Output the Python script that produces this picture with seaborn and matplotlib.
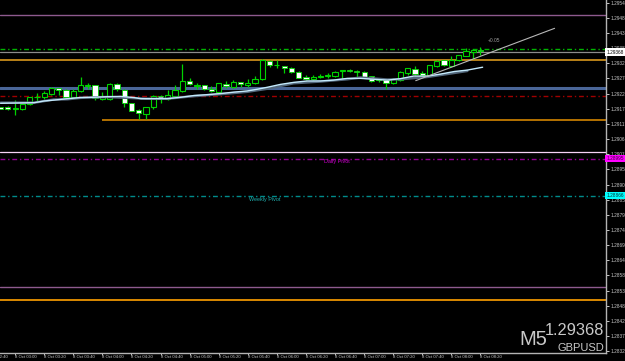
import numpy as np
import pandas as pd
import matplotlib
matplotlib.use("Agg")
import matplotlib.pyplot as plt
import seaborn as sns

# ---------------- data ----------------
opens = [1.29175, 1.29175, 1.29170, 1.29170, 1.29187, 1.29210, 1.29212, 1.29223, 1.29241, 1.29235,
         1.29212, 1.29231, 1.29251, 1.29253, 1.29203, 1.29203, 1.29255, 1.29235, 1.29189, 1.29166,
         1.29153, 1.29175, 1.29214, 1.29205, 1.29216, 1.29233, 1.29268, 1.29249, 1.29252, 1.29239,
         1.29230, 1.29256, 1.29247, 1.29262, 1.29254, 1.29259, 1.29275, 1.29338, 1.29322, 1.29319,
         1.29311, 1.29300, 1.29281, 1.29273, 1.29280, 1.29286, 1.29286, 1.29302, 1.29307, 1.29302,
         1.29298, 1.29283, 1.29270, 1.29270, 1.29259, 1.29270, 1.29295, 1.29309, 1.29295, 1.29289,
         1.29320, 1.29339, 1.29320, 1.29339, 1.29355, 1.29369, 1.29374]
highs = [1.29177, 1.29180, 1.29201, 1.29194, 1.29212, 1.29224, 1.29233, 1.29245, 1.29242, 1.29238,
         1.29238, 1.29280, 1.29261, 1.29253, 1.29228, 1.29261, 1.29259, 1.29238, 1.29191, 1.29170,
         1.29177, 1.29219, 1.29218, 1.29235, 1.29252, 1.29326, 1.29277, 1.29261, 1.29254, 1.29249,
         1.29261, 1.29268, 1.29270, 1.29265, 1.29274, 1.29284, 1.29343, 1.29340, 1.29340, 1.29320,
         1.29317, 1.29301, 1.29287, 1.29287, 1.29291, 1.29296, 1.29302, 1.29307, 1.29309, 1.29304,
         1.29301, 1.29284, 1.29275, 1.29273, 1.29277, 1.29301, 1.29314, 1.29320, 1.29301, 1.29324,
         1.29341, 1.29340, 1.29354, 1.29359, 1.29381, 1.29379, 1.29385]
lows = [1.29168, 1.29166, 1.29148, 1.29166, 1.29182, 1.29195, 1.29205, 1.29218, 1.29218, 1.29203,
        1.29210, 1.29228, 1.29238, 1.29201, 1.29201, 1.29201, 1.29233, 1.29175, 1.29161, 1.29134,
        1.29134, 1.29168, 1.29189, 1.29201, 1.29212, 1.29230, 1.29252, 1.29238, 1.29235, 1.29228,
        1.29227, 1.29242, 1.29244, 1.29245, 1.29245, 1.29256, 1.29270, 1.29317, 1.29311, 1.29296,
        1.29296, 1.29276, 1.29272, 1.29269, 1.29276, 1.29279, 1.29280, 1.29273, 1.29298, 1.29281,
        1.29280, 1.29263, 1.29265, 1.29240, 1.29256, 1.29267, 1.29289, 1.29289, 1.29287, 1.29284,
        1.29317, 1.29319, 1.29317, 1.29337, 1.29354, 1.29343, 1.29359]
closes = [1.29170, 1.29168, 1.29171, 1.29185, 1.29210, 1.29211, 1.29224, 1.29241, 1.29235, 1.29212,
          1.29232, 1.29252, 1.29252, 1.29206, 1.29212, 1.29255, 1.29238, 1.29189, 1.29163, 1.29154,
          1.29175, 1.29214, 1.29205, 1.29219, 1.29235, 1.29267, 1.29255, 1.29250, 1.29240, 1.29231,
          1.29259, 1.29249, 1.29263, 1.29255, 1.29259, 1.29275, 1.29340, 1.29322, 1.29323, 1.29311,
          1.29300, 1.29279, 1.29274, 1.29280, 1.29284, 1.29287, 1.29297, 1.29307, 1.29302, 1.29297,
          1.29282, 1.29267, 1.29271, 1.29259, 1.29274, 1.29297, 1.29311, 1.29293, 1.29289, 1.29322,
          1.29338, 1.29322, 1.29340, 1.29357, 1.29373, 1.29376, 1.29370]

# moving averages (bar index, price)
ma_fast_x = [0, 4.6, 6, 7.3, 9.2, 11, 12.8, 14.7, 16.5, 18.3, 19.3, 22.9, 24.8, 26.6, 28.4, 30.3,
             32.1, 33.9, 35.3, 36.7, 38.5, 40.3, 42.2, 44, 45.8, 47.7, 49.5, 51.3, 53.2, 55, 56.8,
             58.7, 60.5, 62.4, 64.2, 66.3]
ma_fast_y = [1.29189, 1.29191, 1.29197, 1.29200, 1.29205, 1.29209, 1.29210, 1.29212, 1.29213,
             1.29209, 1.29205, 1.29205, 1.29210, 1.29216, 1.29219, 1.29223, 1.29228, 1.29232,
             1.29238, 1.29245, 1.29255, 1.29262, 1.29267, 1.29267, 1.29270, 1.29276, 1.29276,
             1.29273, 1.29270, 1.29275, 1.29284, 1.29284, 1.29291, 1.29300, 1.29305, 1.29315]
ma_slow_x = [0, 4.6, 7.3, 9.2, 11, 14.7, 18.3, 20, 22.9, 26.6, 30.3, 33.9, 36.7, 40.3, 44,
             47.7, 49.5, 53.2, 55, 58.7, 62.4, 64.2]
ma_slow_y = [1.29191, 1.29191, 1.29202, 1.29203, 1.29208, 1.29211, 1.29207, 1.29205, 1.29205,
             1.29214, 1.29221, 1.29229, 1.29240, 1.29259, 1.29265, 1.29273, 1.29279, 1.29272,
             1.29273, 1.29281, 1.29295, 1.29302]

trend_x = [57.1, 76.2]
trend_y = [1.29268, 1.29451]

# horizontal levels
solid_levels = [1.29498, 1.29342, 1.29241, 1.29020, 1.28546, 1.28501]
solid_colors = ["#8e5a8e", "#d9981c", "#4a6698", "#f6d2f6", "#8e5a8e", "#ffa000"]
solid_widths = [1.0, 1.2, 2.2, 0.9, 1.0, 1.2]
dash_levels = [1.29380, 1.29216, 1.28995, 1.28866]
dash_colors = ["#00b400", "#a00000", "#900090", "#008b8b"]
partial_level = 1.29129
partial_start = 13.9
bid_price = 1.29368
daily_pivot = 1.28995
weekly_pivot = 1.28866

price_ticks = [1.29541, 1.29488, 1.29435, 1.29382, 1.29329, 1.29276, 1.29223, 1.29170,
               1.29117, 1.29064, 1.29011, 1.28958, 1.28905, 1.28852, 1.28799, 1.28746,
               1.28693, 1.28640, 1.28587, 1.28534, 1.28481, 1.28428, 1.28375, 1.28322]
price_labels = ["%.5f" % v for v in price_ticks]
time_ticks = list(range(2, 67, 4))
time_labels = ["8 Oct 03:00", "8 Oct 03:20", "8 Oct 03:40", "8 Oct 04:00", "8 Oct 04:20",
               "8 Oct 04:40", "8 Oct 05:00", "8 Oct 05:20", "8 Oct 05:40", "8 Oct 06:00",
               "8 Oct 06:20", "8 Oct 06:40", "8 Oct 07:00", "8 Oct 07:20", "8 Oct 07:40",
               "8 Oct 08:00", "8 Oct 08:20"]

# ---------------- plot ----------------
sns.set_theme(style="dark")
plt.rcParams["font.family"] = ["Liberation Sans", "DejaVu Sans"]

W, H = 625, 361
fig = plt.figure(figsize=(W / 100, H / 100), dpi=100, facecolor="black")
ax = fig.add_axes([0, (H - 353) / H, 606 / W, 353 / H])
ax.set_facecolor("black")
ax.grid(False)

x = np.arange(len(opens))
o = np.array(opens); c = np.array(closes); h = np.array(highs); l = np.array(lows)

GREEN = "#00d200"
ax.vlines(x, l, h, color=GREEN, lw=0.9, zorder=3)
bull = c >= o
body_min = 0.000025
heights = np.maximum(np.abs(c - o), body_min)
bottoms = np.minimum(o, c)
ax.bar(x[bull], heights[bull], bottom=bottoms[bull], width=0.72, color="black",
       edgecolor=GREEN, linewidth=0.8, zorder=4)
ax.bar(x[~bull], heights[~bull], bottom=bottoms[~bull], width=0.72, color="white",
       edgecolor=GREEN, linewidth=0.6, zorder=4)

# levels
for lv, col, lw in zip(solid_levels, solid_colors, solid_widths):
    ax.axhline(lv, color=col, lw=lw, zorder=1)
for lv, col in zip(dash_levels, dash_colors):
    ax.axhline(lv, color=col, lw=1.0, dashes=(3.5, 2, 1, 2), zorder=1)
ax.hlines(partial_level, partial_start, 84, color="#c27a00", lw=1.3, zorder=1)
ax.axhline(bid_price, color="#8c8c8c", lw=0.9, zorder=1)

# moving averages
sns.lineplot(x=ma_slow_x, y=ma_slow_y, ax=ax, color="#52667a", lw=1.8, zorder=5)
sns.lineplot(x=ma_fast_x, y=ma_fast_y, ax=ax, color="#c4eafc", lw=1.0, zorder=6)
sns.lineplot(x=trend_x, y=trend_y, ax=ax, color="#b8b8b8", lw=0.8, zorder=6)

ax.text(67.0, 1.29407, "+0.05", color="#a0a0a0", fontsize=3.5, va="center", ha="left")
ax.text(44.5, 1.28984, "Daily Pivot", color="#d000d0", fontsize=3.9, va="center", ha="left")
ax.text(34.1, 1.28854, "Weekly Pivot", color="#20b0b0", fontsize=3.9, va="center", ha="left")

ax.set_xlim(-0.083, 83.27)
ax.set_ylim(1.28316, 1.29550)

# axes styling
for s in ["top", "left"]:
    ax.spines[s].set_visible(False)
for s in ["right", "bottom"]:
    ax.spines[s].set_visible(True)
    ax.spines[s].set_color("#b4b4b4")
    ax.spines[s].set_linewidth(1.0)

ax.yaxis.tick_right()
ax.set_yticks(price_ticks)
ax.set_yticklabels(price_labels)
ax.tick_params(axis="y", right=True, left=False, length=2.5, width=0.7, pad=1.0,
               colors="#c8c8c8", labelsize=3.4)
ax.set_xticks(time_ticks)
ax.set_xticklabels(time_labels, ha="left")
ax.tick_params(axis="x", bottom=True, length=1.5, width=0.7, pad=0.2,
               colors="#c8c8c8", labelsize=3.1)
ax.text(-2, -0.006, "8 Oct 02:40", transform=ax.get_xaxis_transform(), ha="left",
        va="top", fontsize=3.1, color="#c8c8c8", clip_on=False)

# price tags on the right axis
yt = ax.get_yaxis_transform()
ax.text(1.001, bid_price, "%.5f" % bid_price, transform=yt, fontsize=3.4, color="black",
        va="center", ha="left", bbox=dict(fc="white", ec="none", pad=0.8), clip_on=False)
ax.text(1.001, daily_pivot, "%.5f" % daily_pivot, transform=yt, fontsize=3.4, color="#400040",
        va="center", ha="left", bbox=dict(fc="#ff00ff", ec="none", pad=0.8), clip_on=False)
ax.text(1.001, weekly_pivot, "%.5f" % weekly_pivot, transform=yt, fontsize=3.4, color="#003030",
        va="center", ha="left", bbox=dict(fc="#00ffff", ec="none", pad=0.8), clip_on=False)

# symbol / timeframe block
fig.text(547 / W, 1 - 345 / H, "M5", color="#c8c8c8", fontsize=14.5, ha="right", va="baseline")
fig.text(604 / W, 1 - 335 / H, "%.5f" % bid_price, color="#c8c8c8", fontsize=11.8,
         ha="right", va="baseline")
fig.text(604 / W, 1 - 351 / H, "GBPUSD", color="#c8c8c8", fontsize=8, ha="right", va="baseline")

fig.savefig("out.png", dpi=100, facecolor="black")
